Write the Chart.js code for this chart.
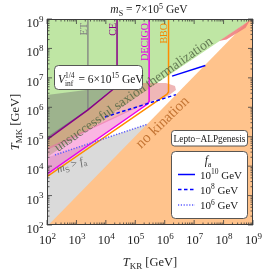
<!DOCTYPE html>
<html><head><meta charset="utf-8">
<script src="https://cdn.jsdelivr.net/npm/chart.js@4"></script>
<style>html,body{margin:0;padding:0;background:#fff;}canvas{display:block;}</style>
</head><body>
<canvas id="c" width="266" height="273" style="width:266px;height:273px"></canvas>
<script>
// ---- data: points are [log10(T_KR/GeV), log10(T_MK/GeV)] ----
const tickExponents = [2,3,4,5,6,7,8,9];
const greenRegion  = [[2,4.3],[8.9,8.95],[8.95,9],[2,9]];
const grayRegion   = [[2,2],[3,2],[5.5,5.46],[2,4.29]];
const orangeRegion = [[2.05,2],[9,2],[9,9],[8.9,9]];
const redSliver    = [[7.85,8.25],[8.9,8.96],[8.75,8.7],[8.1,8.3]];
const etRegion     = [[2,6.42],[4.38,6.72],[3.39,5.91],[2,4.96]];
const salmonRegion = [[2,4.956],[3.393,5.908],[4.379,6.723],[5.16,6.825],[6.043,6.825],[6.349,6.723],[6.383,6.587],[6.111,6.381],[5.466,6.18],[2,4.548]];
const pinkRegion   = [[2,4.616],[5.466,6.214],[5.476,6.135],[2,3.733]];
const etCurve      = [[3.39,9],[3.39,5.91],[2,4.96]];
const ceCurve      = [[4.38,9],[4.38,6.86],[4.35,6.74],[4.27,6.63],[3.39,5.91],[2,4.9]];
const decigoCurve  = [[5.47,9],[5.47,6.2],[5.43,6.12],[2,3.73]];
const bboCurve     = [[6.13,9],[6.13,6.52],[6.08,6.45],[2,3.64]];
const fa1e10       = [[6.25,7.06],[7.38,7.42]];
const fa1e8        = [[3.97,5.67],[6.38,6.43]];
const fa1e6        = [[2.27,4.38],[5.40,5.42]];
const legendLabels = ['10','8','6'];

const FAM = '"Liberation Serif","DejaVu Serif",serif';
const pts = a => a.map(([u,v]) => ({x: Math.pow(10,u), y: Math.pow(10,v)}));
const region = (a,c) => ({data: pts(a), showLine:true, fill:'shape', backgroundColor:c, borderColor:'rgba(0,0,0,0)', borderWidth:0, pointRadius:0});
const curve = (a,c,w,d) => ({data: pts(a), showLine:true, fill:false, borderColor:c, borderWidth:w, borderDash:d||[], pointRadius:0, borderCapStyle:'butt', borderJoinStyle:'round'});

const datasets = [
  region(greenRegion,'rgb(191,230,164)'),
  region(grayRegion,'rgb(218,218,218)'),
  region(orangeRegion,'rgb(255,195,140)'),
  region(redSliver,'rgba(238,120,120,0.85)'),
  region(etRegion,'rgba(110,110,110,0.42)'),
  region(salmonRegion,'rgba(220,95,95,0.45)'),
  region(pinkRegion,'rgba(245,90,190,0.45)'),
  curve(etCurve,'rgb(128,128,128)',1.3),
  curve(ceCurve,'rgb(135,0,135)',1.5),
  curve(bboCurve,'rgb(255,140,0)',1.5),
  curve(decigoCurve,'rgb(235,0,235)',1.5),
  curve(fa1e10,'rgb(0,0,255)',1.5),
  curve(fa1e8,'rgb(0,0,255)',1.5,[3.5,2.5]),
  curve(fa1e6,'rgb(90,90,255)',1.5,[1.2,1.6])
];
datasets.forEach((d,i)=>{d.order=-i;});

function rich(ctx, parts, x, y, align){
  let w=0;
  for(const p of parts){ctx.font=(p[2]?'italic ':'')+p[1]+'px '+FAM; p.w=ctx.measureText(p[0]).width; w+=p.w;}
  let sx = align==='center'? x-w/2 : align==='right'? x-w : x;
  for(const p of parts){ctx.font=(p[2]?'italic ':'')+p[1]+'px '+FAM; ctx.fillText(p[0], sx, y+(p[3]||0)); sx+=p.w;}
  return w;
}
function roundRect(ctx,x,y,w,h,r){
  ctx.beginPath();ctx.moveTo(x+r,y);ctx.lineTo(x+w-r,y);ctx.arcTo(x+w,y,x+w,y+r,r);
  ctx.lineTo(x+w,y+h-r);ctx.arcTo(x+w,y+h,x+w-r,y+h,r);ctx.lineTo(x+r,y+h);
  ctx.arcTo(x,y+h,x,y+h-r,r);ctx.lineTo(x,y+r);ctx.arcTo(x,y,x+r,y,r);ctx.closePath();
}
function fitText(ctx, txt, size, italic, target){
  ctx.font=(italic?'italic ':'')+size+'px '+FAM;
  const w=ctx.measureText(txt).width;
  return size*target/w;
}

const deco = {
  id:'deco',
  afterDatasetsDraw(chart){
    const {ctx, chartArea:a, scales:{x,y}} = chart;
    const px = u => x.getPixelForValue(Math.pow(10,u));
    const py = v => y.getPixelForValue(Math.pow(10,v));
    ctx.save();
    ctx.textBaseline='alphabetic';
    const rot = (tx,ty,ang,fn)=>{ctx.save();ctx.translate(tx,ty);ctx.rotate(ang*Math.PI/180);fn();ctx.restore();};
    let s = fitText(ctx,'unsuccessful saxion thermalization',12,false,190);
    ctx.fillStyle='rgba(85,105,70,0.85)';
    rot(58,152,-35,()=>{ctx.font=s+'px '+FAM;ctx.textAlign='left';ctx.fillText('unsuccessful saxion thermalization',0,0);});
    s = fitText(ctx,'no kination',12,false,68);
    ctx.fillStyle='rgb(195,115,50)';
    rot(141,149,-44,()=>{ctx.font=s+'px '+FAM;ctx.textAlign='left';ctx.fillText('no kination',0,0);});
    ctx.fillStyle='rgb(105,105,105)';
    rot(58,173,-19,()=>{ctx.textAlign='left';rich(ctx,[['m',11,true],['S',8,false,2.5],[' > ',11],['f',11,true],['a',8,false,2.5]],0,0,'left');});
    const vlab=(t,xb,col)=>{ctx.fillStyle=col;rot(xb,23,-90,()=>{ctx.font='10px '+FAM;ctx.textAlign='right';ctx.fillText(t,0,0);});};
    vlab('ET',px(3.39)-0.8,'rgb(128,128,128)');
    vlab('CE',px(4.38)-1.2,'rgb(135,0,135)');
    vlab('DECIGO',px(5.47)-1.2,'rgb(225,0,225)');
    vlab('BBO',px(6.13)-1.2,'rgb(245,135,0)');
    // frame
    ctx.strokeStyle='rgb(60,60,60)';ctx.lineWidth=1;
    ctx.strokeRect(a.left+0.5,a.top+0.5,a.right-a.left-1,a.bottom-a.top-1);
    // ticks
    ctx.lineWidth=0.8;ctx.beginPath();
    for(let i=0;i<tickExponents.length;i++){
      const n=tickExponents[i];
      const xp=px(n), yp=py(n);
      ctx.moveTo(xp,a.bottom);ctx.lineTo(xp,a.bottom-5);ctx.moveTo(xp,a.top);ctx.lineTo(xp,a.top+5);
      ctx.moveTo(a.left,yp);ctx.lineTo(a.left+5,yp);ctx.moveTo(a.right,yp);ctx.lineTo(a.right-5,yp);
      if(i<tickExponents.length-1){
        for(let k=2;k<10;k++){
          const e=n+Math.log10(k);
          const xm=px(e), ym=py(e);
          ctx.moveTo(xm,a.bottom);ctx.lineTo(xm,a.bottom-2.5);ctx.moveTo(xm,a.top);ctx.lineTo(xm,a.top+2.5);
          ctx.moveTo(a.left,ym);ctx.lineTo(a.left+2.5,ym);ctx.moveTo(a.right,ym);ctx.lineTo(a.right-2.5,ym);
        }
      }
    }
    ctx.stroke();
    // tick labels
    ctx.fillStyle='rgb(30,30,30)';ctx.textAlign='left';
    for(const n of tickExponents){
      rich(ctx,[['10',12.5],[String(n),9,false,-5.5]],43.5,py(n)+8,'right');
      rich(ctx,[['10',12.5],[String(n),9,false,-5.5]],px(n)+0.5,244,'center');
    }
    // axis titles
    rich(ctx,[['T',12.5,true],['KR',9,false,3],[' [GeV]',12.5]],(a.left+a.right)/2,266,'center');
    rot(18.5,(a.top+a.bottom)/2,-90,()=>{rich(ctx,[['T',12.5,true],['MK',9,false,3],[' [GeV]',12.5]],0,0,'center');});
    // title
    rich(ctx,[['m',11.5,true],['S',8,false,2.5],[' = 7×10',11.5],['5',8,false,-4.5],[' GeV',11.5]],149,13,'center');
    // V_inf box
    ctx.fillStyle='#fff';ctx.strokeStyle='rgb(70,70,70)';ctx.lineWidth=0.9;
    roundRect(ctx,54.5,65.5,88,24,4);ctx.fill();ctx.stroke();
    ctx.fillStyle='rgb(25,25,25)';
    let cx=58;
    ctx.font='italic 11.5px '+FAM;ctx.fillText('V',cx,83);cx+=ctx.measureText('V').width;
    ctx.font='7.5px '+FAM;const w1=ctx.measureText('1/4').width;ctx.fillText('1/4',cx,78);
    const w2=ctx.measureText('inf').width;ctx.fillText('inf',cx,86);cx+=Math.max(w1,w2)+1;
    ctx.font='11.5px '+FAM;ctx.fillText(' = 6×10',cx,83);cx+=ctx.measureText(' = 6×10').width;
    ctx.font='7.5px '+FAM;ctx.fillText('15',cx,78);cx+=ctx.measureText('15').width;
    ctx.font='11.5px '+FAM;ctx.fillText(' GeV',cx,83);
    // Lepto box
    ctx.fillStyle='#fff';roundRect(ctx,171.5,130.5,76,15.5,3);ctx.fill();ctx.stroke();
    ctx.fillStyle='rgb(25,25,25)';
    s=fitText(ctx,'Lepto−ALPgenesis',10,false,72);
    ctx.font=s+'px '+FAM;ctx.textAlign='center';ctx.fillText('Lepto−ALPgenesis',209.5,142);
    // legend box
    ctx.textAlign='left';
    ctx.fillStyle='#fff';roundRect(ctx,171.5,151.5,76,67,4);ctx.fill();ctx.stroke();
    ctx.fillStyle='rgb(25,25,25)';
    rich(ctx,[['f',11.5,true],['a',8,false,2.5]],208,164,'center');
    const rows=[[174.5,'rgb(0,0,255)',[]],[189.5,'rgb(0,0,255)',[3.5,2.5]],[205,'rgb(90,90,255)',[1.2,1.6]]];
    rows.forEach((r,i)=>{
      ctx.save();ctx.strokeStyle=r[1];ctx.lineWidth=1.5;ctx.setLineDash(r[2]);
      ctx.beginPath();ctx.moveTo(178,r[0]);ctx.lineTo(195,r[0]);ctx.stroke();ctx.restore();
      ctx.fillStyle='rgb(25,25,25)';
      rich(ctx,[['10',11],[legendLabels[i],7.5,false,-4.5],[' GeV',11]],200,r[0]+4,'left');
    });
    ctx.restore();
  }
};

new Chart(document.getElementById('c'),{
  type:'scatter',
  data:{datasets},
  options:{
    responsive:false, animation:false, devicePixelRatio:1,
    layout:{padding:{left:47,top:19,right:13,bottom:48}},
    scales:{
      x:{type:'logarithmic',min:1e2,max:1e9,display:false},
      y:{type:'logarithmic',min:1e2,max:1e9,display:false}
    },
    plugins:{legend:{display:false},tooltip:{enabled:false}},
    elements:{point:{radius:0}}
  },
  plugins:[deco]
});
</script>
</body></html>
